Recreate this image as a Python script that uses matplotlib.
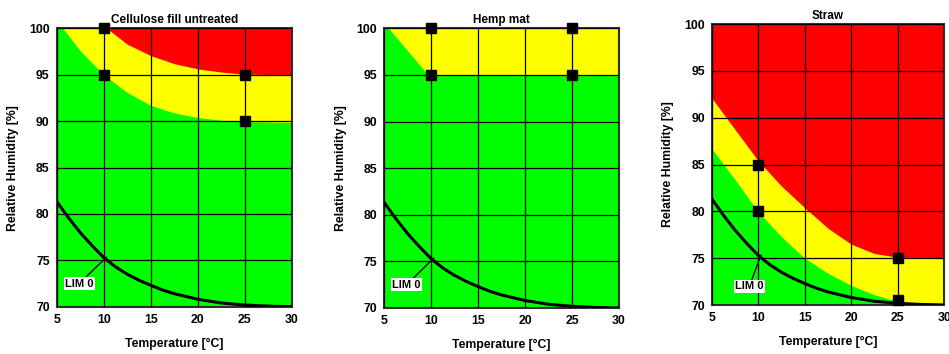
import matplotlib
matplotlib.use("Agg")
import matplotlib.pyplot as plt

plt.rcParams['font.family'] = ['Liberation Sans', 'DejaVu Sans']
plt.rcParams['font.weight'] = 'bold'

titles = ["Cellulose fill untreated", "Hemp mat", "Straw"]

# LIM 0 isopleth (same in all panels)
lim_t = [5, 6.25, 7.5, 8.75, 10, 11.25, 12.5, 13.75, 15, 16.25, 17.5, 18.75,
         20, 22.5, 25, 27.5, 30]
lim_rh = [81.35, 79.6, 78.0, 76.6, 75.3, 74.3, 73.5, 72.85, 72.3, 71.8, 71.4,
          71.1, 70.8, 70.4, 70.18, 70.06, 70.0]

# Cellulose fill untreated
cel_yellow_t = [5.67, 7.5, 10, 12.5, 15, 17.5, 20, 22.5, 25, 30]
cel_yellow_rh = [100, 97.6, 95.0, 93.1, 91.7, 90.9, 90.4, 90.1, 89.96, 89.86]
cel_red_t = [10.35, 12.5, 15, 17.5, 20, 22.5, 25, 30]
cel_red_rh = [100, 98.3, 97.07, 96.2, 95.64, 95.3, 95.07, 95.0]
cel_pts_t = [10, 10, 25, 25]
cel_pts_rh = [100, 95, 95, 90]

# Hemp mat
hemp_yellow_t = [5.5, 9.7, 30]
hemp_yellow_rh = [100, 95, 95]
hemp_pts_t = [10, 10, 25, 25]
hemp_pts_rh = [100, 95, 100, 95]

# Straw
straw_t = [5, 7.5, 10, 12.5, 15, 17.5, 20, 22.5, 25, 27.5, 30]
straw_yellow_rh = [86.7, 83.4, 79.95, 77.3, 75.0, 73.4, 72.1, 71.1, 70.4, 70.1, 70.0]
straw_red_rh = [92.1, 88.75, 85.4, 82.7, 80.4, 78.2, 76.5, 75.5, 75.1, 75.02, 75.0]
straw_pts_t = [10, 10, 25, 25]
straw_pts_rh = [85, 80, 75, 70.5]

GREEN = "#00ff00"
YELLOW = "#ffff00"
RED = "#ff0000"

fig = plt.figure(figsize=(9.49, 3.54), dpi=100)
rects = [
    [0.0597, 0.1336, 0.248, 0.786],
    [0.4046, 0.130, 0.2476, 0.790],
    [0.750, 0.1384, 0.2448, 0.7936],
]

fills = [
    [(cel_yellow_t, cel_yellow_rh, YELLOW), (cel_red_t, cel_red_rh, RED)],
    [(hemp_yellow_t, hemp_yellow_rh, YELLOW)],
    [(straw_t, straw_yellow_rh, YELLOW), (straw_t, straw_red_rh, RED)],
]
points = [(cel_pts_t, cel_pts_rh), (hemp_pts_t, hemp_pts_rh), (straw_pts_t, straw_pts_rh)]
label_pos = [(7.4, 72.5), (7.4, 72.5), (9.05, 72.0)]

for i in range(3):
    ax = fig.add_axes(rects[i])
    ax.set_facecolor(GREEN)
    for t, rh, c in fills[i]:
        ax.fill_between(t, rh, 100, color=c, lw=0, zorder=1)
    ax.set_xlim(5, 30)
    ax.set_ylim(70, 100)
    ax.set_xticks([5, 10, 15, 20, 25, 30])
    ax.set_yticks([70, 75, 80, 85, 90, 95, 100])
    ax.grid(True, color="black", lw=0.9, zorder=2)
    ax.set_axisbelow(False)
    ax.plot(lim_t, lim_rh, color="black", lw=2.2, zorder=3,
            solid_joinstyle="round")
    ax.plot(points[i][0], points[i][1], ls="none", marker="s", ms=6.5,
            color="black", zorder=4, clip_on=False)
    lx, ly = label_pos[i]
    ax.annotate("LIM 0", xy=(10.3, 75.35), xytext=(lx, ly),
                fontsize=8, fontweight="bold", ha="center", va="center",
                bbox=dict(boxstyle="square,pad=0.12", fc="white", ec="none"),
                arrowprops=dict(arrowstyle="-", color="black", lw=1,
                                shrinkA=0, shrinkB=0),
                zorder=5)
    ax.set_title(titles[i], fontsize=8.5, fontweight="bold", pad=4)
    ax.set_xlabel("Temperature [°C]", fontsize=8.8, fontweight="bold", labelpad=9)
    ax.set_ylabel("Relative Humidity [%]", fontsize=8.8, fontweight="bold", labelpad=7)
    ax.tick_params(length=0, labelsize=8.8, pad=5)
    for lab in ax.get_xticklabels() + ax.get_yticklabels():
        lab.set_fontweight("bold")
    for s in ax.spines.values():
        s.set_color("#333333")
        s.set_linewidth(1.5)

fig.savefig("out.png", dpi=100)
